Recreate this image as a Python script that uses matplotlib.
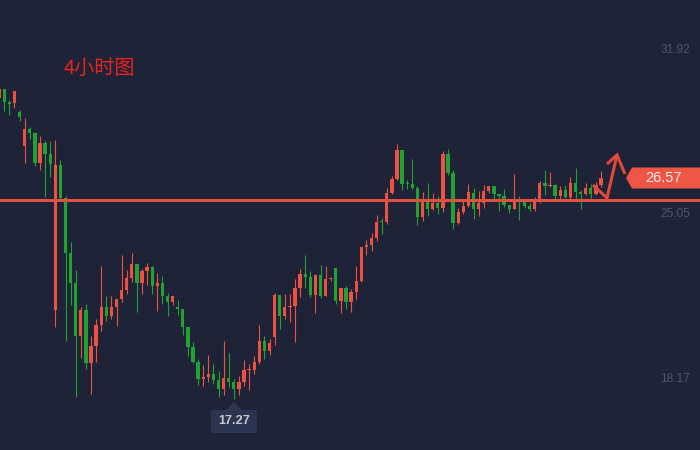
import matplotlib
matplotlib.use("Agg")
import matplotlib.pyplot as plt
import matplotlib.transforms as mtrans
from matplotlib.patches import Polygon

# ---------------- data ----------------
opens = [29.91, 30.29, 29.76, 29.69, 29.33, 27.92, 28.62, 28.45, 27.21, 28.03,
         27.59, 21.06, 27.11, 25.73, 23.45, 22.19, 19.98, 21.05, 18.85, 19.56,
         20.42, 21.18, 20.80, 21.18, 21.51, 21.89, 22.39, 22.97, 22.18, 22.68,
         22.85, 22.06, 22.18, 21.64, 21.39, 21.18, 21.09, 20.34, 19.51, 18.88,
         18.17, 18.25, 18.38, 18.13, 17.75, 18.21, 18.04, 17.75, 18.04, 18.54,
         18.54, 18.88, 19.76, 19.34, 19.92, 21.68, 20.80, 21.18, 21.22, 21.97,
         22.56, 22.43, 21.68, 22.52, 21.64, 22.35, 22.81, 21.43, 21.97, 21.39,
         21.80, 22.26, 23.69, 23.77, 24.06, 24.77, 24.73, 25.94, 26.53, 27.74,
         26.36, 26.32, 26.15, 24.94, 25.57, 25.27, 25.52, 25.32, 27.57, 26.78,
         24.69, 25.15, 25.40, 25.94, 25.27, 25.52, 26.03, 26.24, 25.90, 25.82,
         25.44, 25.27, 25.69, 25.57, 25.40, 25.27, 25.69, 26.36, 26.24, 26.28,
         25.82, 26.07, 25.78, 26.36, 25.98, 25.90, 26.15, 25.90, 26.28]
highs = [30.37, 30.29, 29.83, 30.21, 29.41, 29.08, 28.70, 28.49, 28.32, 28.12,
         28.12, 28.16, 27.32, 25.82, 23.89, 22.72, 21.18, 21.30, 19.97, 20.67,
         22.89, 21.64, 21.64, 21.51, 23.35, 22.72, 23.43, 22.97, 22.77, 23.02,
         22.89, 22.60, 22.47, 21.76, 21.64, 21.47, 21.09, 20.34, 19.71, 19.00,
         18.75, 19.17, 18.79, 18.50, 19.76, 19.25, 18.17, 18.29, 18.96, 18.79,
         19.13, 20.42, 19.97, 19.84, 21.76, 21.68, 21.72, 21.72, 22.35, 22.77,
         23.35, 22.68, 22.56, 22.93, 22.89, 22.43, 22.81, 21.97, 22.06, 21.93,
         22.89, 23.69, 23.98, 24.27, 25.02, 24.90, 26.15, 26.65, 27.99, 27.74,
         26.49, 27.36, 26.24, 25.98, 26.36, 25.94, 25.82, 27.70, 27.78, 26.90,
         25.32, 25.65, 26.32, 26.15, 26.03, 26.28, 26.24, 26.24, 25.90, 26.11,
         25.44, 26.74, 25.82, 25.57, 25.52, 25.78, 26.44, 26.90, 26.82, 26.32,
         26.24, 26.28, 26.61, 26.99, 26.07, 26.36, 26.32, 26.40, 26.86]
lows = [29.83, 29.38, 29.20, 29.51, 28.96, 27.21, 28.21, 27.08, 26.92, 25.79,
        26.62, 20.35, 25.69, 19.77, 21.27, 17.43, 19.06, 18.60, 17.55, 18.89,
        20.19, 20.60, 20.69, 20.39, 21.39, 21.72, 22.22, 20.97, 21.72, 22.10,
        21.72, 21.01, 21.30, 20.80, 21.26, 20.84, 20.01, 19.13, 18.84, 17.92,
        17.88, 18.04, 17.96, 17.41, 17.50, 17.83, 17.33, 17.50, 17.88, 17.71,
        18.38, 18.79, 19.00, 19.17, 19.59, 20.26, 20.67, 20.55, 19.71, 21.59,
        21.97, 21.59, 20.93, 21.55, 21.64, 22.26, 21.30, 20.93, 21.09, 20.97,
        21.51, 22.22, 23.35, 23.52, 23.94, 24.23, 24.65, 25.90, 26.49, 26.07,
        26.11, 26.11, 24.60, 24.77, 24.98, 25.23, 25.06, 25.15, 26.69, 24.44,
        24.65, 25.06, 25.36, 24.85, 24.98, 25.32, 25.94, 25.69, 25.19, 25.36,
        25.11, 25.27, 24.81, 25.32, 25.19, 25.19, 25.52, 25.86, 26.19, 25.69,
        25.65, 25.73, 25.69, 25.65, 25.27, 25.86, 25.69, 25.86, 26.19]
closes = [30.29, 29.76, 29.67, 30.21, 29.13, 28.62, 28.45, 27.21, 28.03, 27.59,
          27.17, 27.11, 25.73, 23.45, 22.19, 19.98, 21.05, 18.85, 19.55, 20.42,
          21.18, 20.80, 21.18, 21.51, 21.89, 22.39, 22.97, 22.18, 22.68, 22.85,
          22.06, 22.18, 21.64, 21.39, 21.64, 21.09, 20.34, 19.51, 18.88, 18.17,
          18.25, 18.38, 18.13, 17.75, 18.21, 18.04, 17.75, 18.04, 18.54, 18.59,
          18.88, 19.76, 19.34, 19.67, 21.68, 20.80, 21.18, 21.22, 21.97, 22.56,
          22.43, 21.68, 22.52, 21.64, 22.35, 22.39, 21.43, 21.97, 21.39, 21.80,
          22.26, 23.69, 23.77, 24.06, 24.73, 24.73, 25.94, 26.53, 27.74, 26.32,
          26.32, 26.15, 24.94, 25.65, 25.27, 25.52, 25.32, 27.57, 26.78, 24.69,
          25.15, 25.40, 25.98, 25.27, 25.52, 26.03, 26.24, 25.90, 25.82, 25.44,
          25.27, 25.69, 25.65, 25.40, 25.27, 25.69, 26.36, 26.24, 26.28, 25.82,
          26.07, 25.78, 26.36, 25.98, 25.90, 26.15, 25.90, 26.28, 26.57]

axis_labels = [31.92, 25.05, 18.17]
support_level = 25.65
last_price = 26.57
low_price = 17.27
low_index = 46
title = "4小时图"

# ---------------- style ----------------
BG = "#1e2337"
RED = "#ec5242"
GREEN = "#22a233"
LINE = "#e0523f"
AXIS_TXT = "#4e566c"

fig = plt.figure(figsize=(7, 4.5), dpi=100, facecolor=BG)
ax = fig.add_axes([0, 0, 1, 1])
ax.set_facecolor(BG)
ax.set_xlim(0.157, 137.41)
ax.set_ylim(15.20, 34.01)
ax.axis("off")

n = len(opens)
xs = list(range(n))
min_body = 0.05
for i in xs:
    o, h, l, c = opens[i], highs[i], lows[i], closes[i]
    col = RED if c >= o else GREEN
    ax.vlines(i, l, h, color=col, linewidth=0.8, zorder=2)
    bot = min(o, c)
    hgt = max(abs(c - o), min_body)
    ax.bar(i, hgt, bottom=bot, width=0.66, color=col, linewidth=0, zorder=3)

# support line
ax.axhline(support_level, color=LINE, linewidth=2.2, zorder=4)

# right axis labels
tr = mtrans.blended_transform_factory(ax.transAxes, ax.transData)
for v in axis_labels:
    ax.text(690 / 700, v, f"{v:.2f}", transform=tr, ha="right", va="center",
            fontsize=8.6, color=AXIS_TXT, family="Liberation Sans", zorder=5)

# title
ax.text(64 / 700, 1 - 68 / 450, title, transform=ax.transAxes, ha="left",
        va="center", fontsize=14.5, color="#e8221d",
        family=["Noto Sans CJK SC", "DejaVu Sans"], zorder=5)

# last price tag
def px(x, y):
    return (x / 700, 1 - y / 450)

ytag = ax.transData.transform((0, last_price))[1]
ytag = 450 - ytag
tag = Polygon([px(626, ytag), px(632, ytag - 10.5), px(700, ytag - 10.5),
               px(700, ytag + 10.5), px(632, ytag + 10.5)],
              closed=True, transform=ax.transAxes, facecolor="#ee5545",
              edgecolor="none", zorder=6)
ax.add_patch(tag)
ax.text(663 / 700, 1 - ytag / 450, f"{last_price:.2f}", transform=ax.transAxes,
        ha="center", va="center", fontsize=10.5, color="#fbeeee",
        family="Liberation Sans", zorder=7)

# arrow annotation
arrow_col = "#e2493a"
ax.plot([593 / 700, 607 / 700, 617 / 700], [1 - 185 / 450, 1 - 198 / 450, 1 - 155 / 450],
        transform=ax.transAxes, color=arrow_col, linewidth=2.2,
        solid_capstyle="butt", solid_joinstyle="miter", zorder=6)
ax.plot([607 / 700, 617 / 700, 625 / 700], [1 - 164 / 450, 1 - 155 / 450, 1 - 174 / 450],
        transform=ax.transAxes, color=arrow_col, linewidth=2.2,
        solid_capstyle="butt", solid_joinstyle="miter", zorder=6)

# low price label box
xlow = ax.transData.transform((low_index, 0))[0]
box = Polygon([px(xlow - 23, 410), px(xlow - 8, 410), px(xlow, 401.5),
               px(xlow + 8, 410), px(xlow + 23, 410), px(xlow + 23, 433),
               px(xlow - 23, 433)], closed=True, transform=ax.transAxes,
              facecolor="#2c3550", edgecolor="none", zorder=6)
ax.add_patch(box)
ax.text(xlow / 700, 1 - 421.5 / 450, f"{low_price:.2f}", transform=ax.transAxes,
        ha="center", va="center", fontsize=9.2, fontweight="bold",
        color="#c6cad4", family="Liberation Sans", zorder=7)

fig.savefig("out.png", dpi=100, facecolor=BG)
